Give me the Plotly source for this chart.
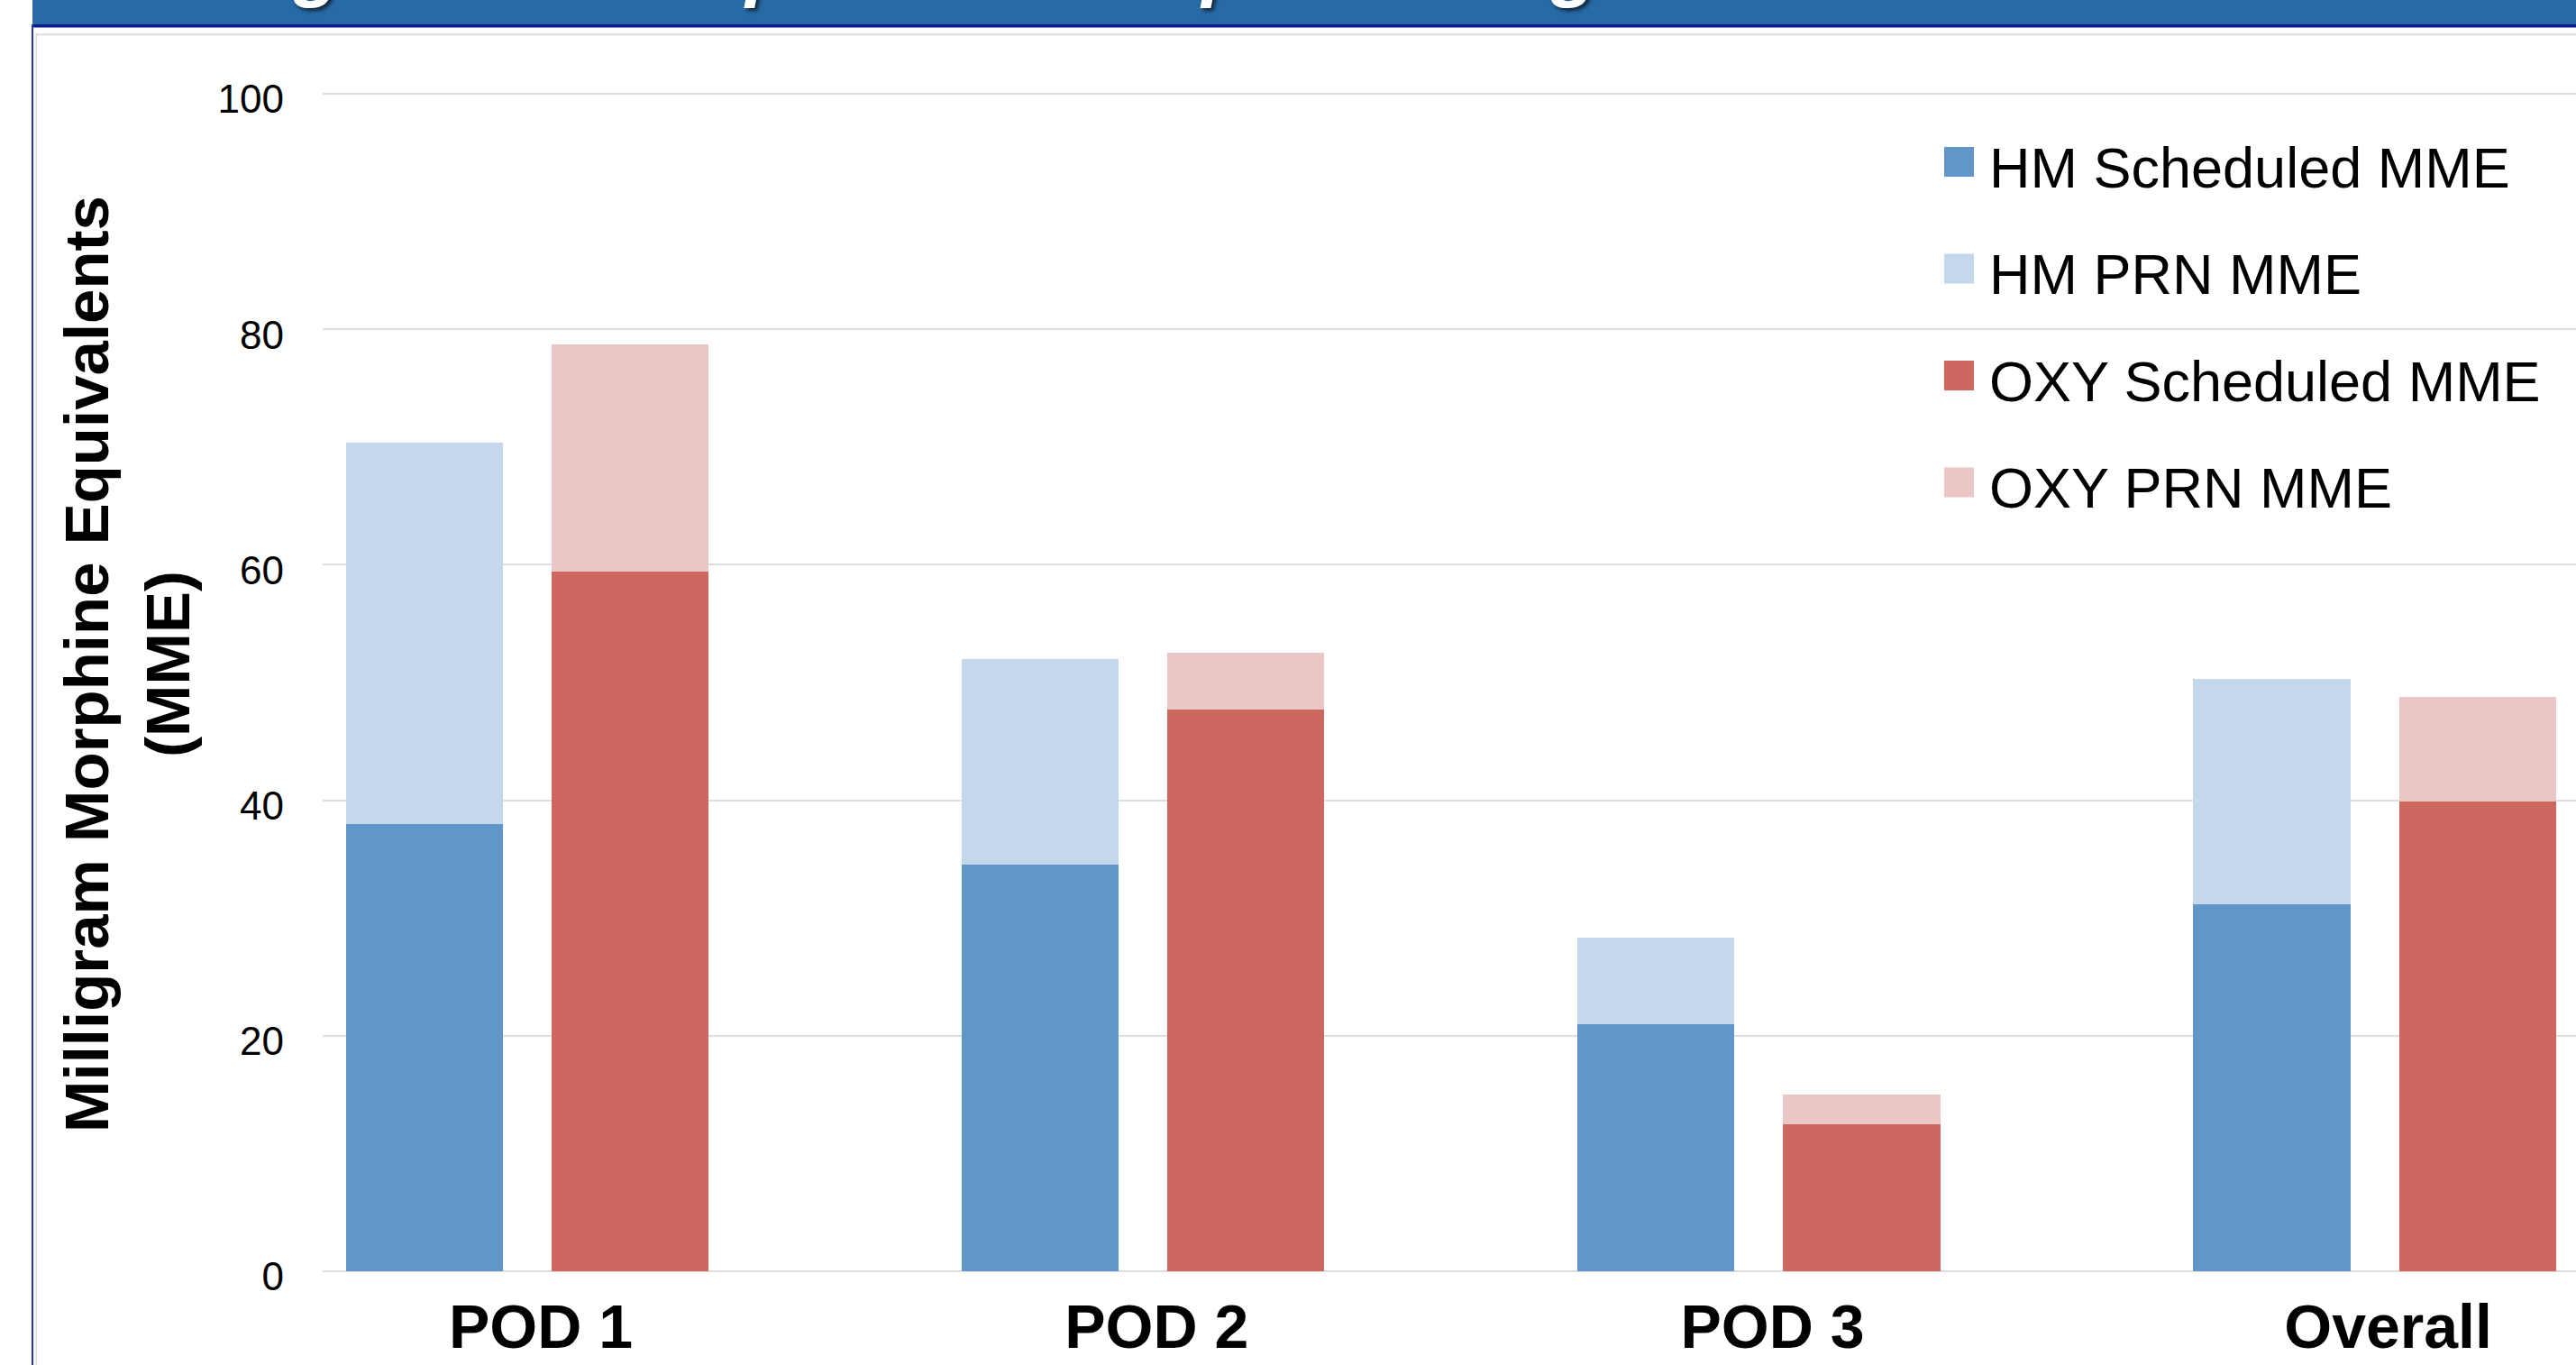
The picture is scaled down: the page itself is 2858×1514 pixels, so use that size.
import plotly.graph_objects as go

# ---- data -------------------------------------------------------------
categories = ["POD 1", "POD 2", "POD 3", "Overall"]
hm_scheduled = [38.0, 34.5, 21.0, 31.2]
hm_prn = [32.4, 17.5, 7.3, 19.1]
oxy_scheduled = [59.4, 47.7, 12.5, 39.9]
oxy_prn = [19.3, 4.8, 2.5, 8.9]
y_ticks = [0, 20, 40, 60, 80, 100]

series_names = ["HM Scheduled MME", "HM PRN MME", "OXY Scheduled MME", "OXY PRN MME"]
series_colors = ["#6196C8", "#C5D7EB", "#CD6760", "#EBC6C6"]

title_text = "Figure 3: Comparison of Opioid Usage Between HM and OXY"
y_title = "Milligram Morphine Equivalents<br>(MME)"

# ---- page geometry ----------------------------------------------------
W, H = 2858, 1514
M_L, M_R, M_T, M_B = 358, 0, 102, 102
PLOT_W = W - M_L - M_R
PLOT_H = H - M_T - M_B


def xp(px):
    """page pixel x -> paper coordinate"""
    return (px - M_L) / PLOT_W


def yp(py):
    """page pixel y (from top) -> paper coordinate"""
    return (H - M_B - py) / PLOT_H


FONT = "Liberation Sans, Arial, sans-serif"

# two bars per category: HM on the left, OXY on the right
pos = list(range(len(categories)))
shift = 0.167
bar_w = 0.255
hm_x = [p - shift for p in pos]
oxy_x = [p + shift for p in pos]

fig = go.Figure()
for xs, vals, name, color in [
    (hm_x, hm_scheduled, series_names[0], series_colors[0]),
    (hm_x, hm_prn, series_names[1], series_colors[1]),
    (oxy_x, oxy_scheduled, series_names[2], series_colors[2]),
    (oxy_x, oxy_prn, series_names[3], series_colors[3]),
]:
    fig.add_trace(go.Bar(
        x=xs, y=vals, name=name, width=bar_w,
        marker=dict(color=color, line=dict(width=0)),
        showlegend=False,
    ))

shapes = [
    # header banner
    dict(type="rect", xref="paper", yref="paper", x0=xp(36), x1=xp(W + 5),
         y0=yp(27), y1=yp(-5), fillcolor="#276AA6", line=dict(width=0), layer="above"),
    dict(type="rect", xref="paper", yref="paper", x0=xp(36), x1=xp(W + 5),
         y0=yp(30.5), y1=yp(27), fillcolor="#0B1E95", line=dict(width=0), layer="above"),
    dict(type="rect", xref="paper", yref="paper", x0=xp(40), x1=xp(W + 5),
         y0=yp(39.5), y1=yp(37), fillcolor="#E2E2E2", line=dict(width=0), layer="above"),
    # frame on the left
    dict(type="rect", xref="paper", yref="paper", x0=xp(35), x1=xp(37),
         y0=yp(H + 5), y1=yp(27), fillcolor="#2438B0", line=dict(width=0), layer="above"),
    dict(type="rect", xref="paper", yref="paper", x0=xp(39.5), x1=xp(41),
         y0=yp(H + 5), y1=yp(37), fillcolor="#DADADA", line=dict(width=0), layer="above"),
]

annotations = [
    dict(text=title_text, xref="paper", yref="paper", x=xp(247), y=yp(11),
         xanchor="left", yanchor="bottom", showarrow=False,
         font=dict(family=FONT, size=86, color="white", weight="bold", style="italic",
                   shadow="3px 3px 4px rgba(0,0,0,0.65)")),
    dict(text=y_title, xref="paper", yref="paper", x=xp(141), y=yp(737),
         xanchor="center", yanchor="middle", textangle=-90, showarrow=False,
         font=dict(family=FONT, size=69, color="black", weight="bold")),
]

# legend: large square swatches with labels
row0, row_step = 179.5, 118.5
for i, (name, color) in enumerate(zip(series_names, series_colors)):
    cy = row0 + i * row_step
    shapes.append(dict(type="rect", xref="paper", yref="paper",
                       x0=xp(2157), x1=xp(2190), y0=yp(cy + 16.5), y1=yp(cy - 16.5),
                       fillcolor=color, line=dict(width=0), layer="above"))
    annotations.append(dict(text=name, xref="paper", yref="paper",
                            x=xp(2205), y=yp(cy + 6), xanchor="left", yanchor="middle",
                            showarrow=False,
                            font=dict(family=FONT, size=63, color="black")))

fig.update_layout(
    template="none",
    width=W, height=H,
    margin=dict(l=M_L, r=M_R, t=M_T, b=M_B, pad=0, autoexpand=False),
    paper_bgcolor="white", plot_bgcolor="white",
    barmode="stack", bargap=0,
    showlegend=False,
    shapes=shapes,
    annotations=annotations,
    xaxis=dict(
        range=[-0.3323, 3.327],
        tickmode="array", tickvals=pos, ticktext=categories,
        showgrid=False, zeroline=False, showline=False, ticks="",
        tickfont=dict(family=FONT, size=68, color="black", weight="bold"),
        ticklabelstandoff=14, ticklabelshift=15,
        automargin=False, fixedrange=True,
    ),
    yaxis=dict(
        range=[-0.15, 100.15],
        tickmode="array", tickvals=y_ticks, ticktext=[str(v) for v in y_ticks],
        showgrid=True, gridcolor="#DEDEDE", gridwidth=2,
        zeroline=True, zerolinecolor="#DEDEDE", zerolinewidth=2,
        showline=False, ticks="",
        tickfont=dict(family=FONT, size=44, color="black"),
        ticklabelstandoff=42, ticklabelshift=6,
        automargin=False, fixedrange=True,
    ),
)

fig.write_html("out.html", config={"displayModeBar": False})
